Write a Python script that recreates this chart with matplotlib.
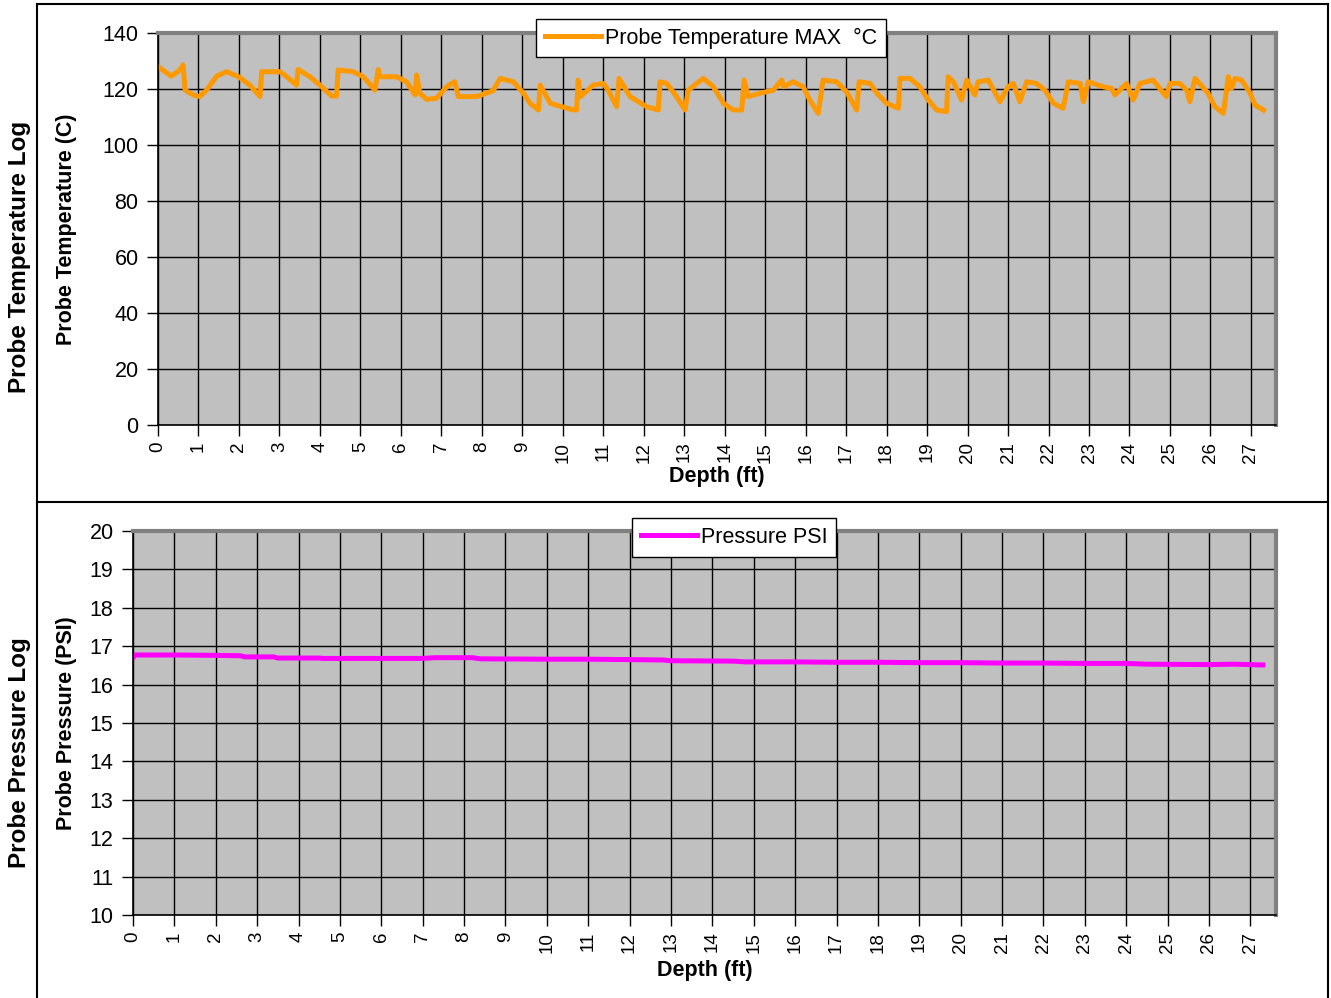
import matplotlib.pyplot as plt
from matplotlib.lines import Line2D

plt.rcParams['font.family'] = ['Liberation Sans', 'DejaVu Sans']

# probe temperature log (depth in ft, temperature in C)
temp_depth = [0.0, 0.33, 0.54, 0.62, 0.67, 0.87, 1.03, 1.20, 1.45, 1.70, 1.99, 2.27, 2.52,
              2.56, 3.01, 3.18, 3.42, 3.46, 3.75, 4.00, 4.29, 4.41, 4.45, 4.82, 5.07, 5.36,
              5.44, 5.48, 5.89, 6.14, 6.35, 6.39, 6.47, 6.64, 6.88, 7.13, 7.33, 7.42, 7.87,
              8.28, 8.45, 8.78, 9.03, 9.19, 9.40, 9.44, 9.69, 10.26, 10.34, 10.38, 10.44,
              10.75, 11.00, 11.12, 11.33, 11.39, 11.66, 12.07, 12.36, 12.40, 12.57, 12.81,
              13.02, 13.10, 13.31, 13.47, 13.72, 13.97, 14.21, 14.42, 14.48, 14.58, 14.87,
              15.20, 15.41, 15.45, 15.69, 15.94, 16.10, 16.31, 16.43, 16.76, 17.01, 17.26,
              17.32, 17.59, 17.76, 18.00, 18.29, 18.33, 18.58, 18.82, 19.03, 19.24, 19.48,
              19.52, 19.65, 19.85, 19.98, 20.18, 20.26, 20.51, 20.80, 21.00, 21.13, 21.29,
              21.46, 21.70, 21.91, 22.12, 22.36, 22.49, 22.78, 22.86, 22.98, 23.35, 23.56,
              23.64, 23.93, 24.09, 24.26, 24.58, 24.91, 25.00, 25.24, 25.41, 25.49, 25.62,
              25.94, 26.11, 26.32, 26.44, 26.52, 26.61, 26.77, 26.98, 27.10, 27.31]
temp_max = [128.0, 124.6, 126.8, 128.6, 119.6, 117.9, 117.3, 119.6, 124.6, 126.2, 124.4, 121.4,
            117.3, 126.2, 126.2, 124.4, 121.4, 127.0, 124.4, 121.4, 117.5, 117.5, 126.8, 126.2,
            124.4, 119.6, 127.0, 124.4, 124.4, 122.6, 117.9, 125.0, 118.5, 116.3, 116.7, 120.8,
            122.6, 117.3, 117.3, 119.4, 123.8, 122.6, 118.5, 114.9, 112.5, 121.4, 114.9, 112.5,
            112.5, 123.2, 117.3, 121.4, 122.0, 119.6, 113.7, 123.8, 117.3, 113.7, 112.5, 122.6,
            122.0, 117.3, 112.5, 119.6, 122.0, 123.8, 120.8, 114.9, 112.5, 112.5, 123.2, 117.3,
            118.5, 119.6, 123.2, 120.8, 122.6, 120.8, 116.1, 111.3, 123.2, 122.6, 119.0, 112.5,
            122.6, 122.0, 118.5, 114.9, 113.1, 123.8, 123.8, 120.8, 116.1, 112.5, 111.9, 124.4,
            122.6, 116.1, 123.2, 117.9, 122.6, 123.2, 115.5, 120.8, 122.0, 115.5, 122.6, 122.0,
            119.6, 114.9, 113.1, 122.6, 122.0, 115.5, 122.6, 120.8, 120.2, 117.9, 122.0, 116.1,
            122.0, 123.2, 117.3, 122.0, 122.0, 119.6, 115.5, 123.8, 118.5, 113.7, 111.3, 124.4,
            120.2, 123.8, 123.2, 118.5, 114.3, 112.5]

# probe pressure log (depth in ft, pressure in PSI)
press_depth = [0.0, 0.05, 1.0, 2.0, 2.6, 2.7, 3.4, 3.5, 4.5, 4.6, 6.0, 7.0, 7.3, 8.2, 8.4,
               10.0, 11.0, 12.0, 12.8, 13.0, 14.5, 14.8, 16.0, 17.0, 18.0, 19.0, 20.0, 21.0,
               22.0, 23.0, 24.0, 24.5, 26.0, 26.6, 27.3]
press_psi = [16.70, 16.77, 16.77, 16.76, 16.75, 16.72, 16.72, 16.69, 16.69, 16.68, 16.68,
             16.68, 16.70, 16.70, 16.67, 16.66, 16.66, 16.65, 16.64, 16.62, 16.61, 16.59,
             16.59, 16.58, 16.58, 16.57, 16.57, 16.56, 16.56, 16.55, 16.55, 16.53, 16.52,
             16.53, 16.51]

depth_ticks = list(range(0, 28))
temp_ticks = [0, 20, 40, 60, 80, 100, 120, 140]
press_ticks = [10, 11, 12, 13, 14, 15, 16, 17, 18, 19, 20]

fig = plt.figure(figsize=(13.31, 9.98), dpi=100)


def style_axes(ax, yticks, label_y):
    ax.set_facecolor('#C0C0C0')
    ax.set_xlim(0, 27.62)
    ax.set_xticks(depth_ticks)
    ax.set_xticklabels([str(d) for d in depth_ticks], rotation=90, fontsize=13.5)
    ax.set_yticks(yticks)
    ax.set_ylim(yticks[0], yticks[-1])
    ax.tick_params(axis='y', labelsize=15.5, length=8, width=1, direction='out', pad=6)
    ax.tick_params(axis='x', length=8, width=1, direction='out', pad=4)
    ax.grid(True, color='black', linewidth=1)
    ax.set_axisbelow(True)
    for side in ['top', 'right']:
        ax.spines[side].set_color('#808080')
        ax.spines[side].set_linewidth(3)
    for side in ['left', 'bottom']:
        ax.spines[side].set_color('black')
        ax.spines[side].set_linewidth(1.2)
    ax.set_xlabel('Depth (ft)', fontsize=15.5, fontweight='bold')
    ax.xaxis.set_label_coords(0.5, label_y)


def add_legend(color, label, center):
    leg = fig.legend(handles=[Line2D([], [], color=color, linewidth=3.6)],
                     labels=[label], loc='center', bbox_to_anchor=center,
                     fontsize=15.5, fancybox=False, framealpha=1, edgecolor='black',
                     handlelength=2.6, borderpad=0.4, handletextpad=0.2,
                     borderaxespad=0)
    leg.get_frame().set_linewidth(1)


# temperature panel
ax1 = fig.add_axes([0.1187, 0.5741, 0.84, 0.3928])
style_axes(ax1, temp_ticks, -0.105)
ax1.plot(temp_depth, temp_max, color='#FF9900', linewidth=3.6, solid_joinstyle='round')
fig.text(0.050, 0.770, 'Probe Temperature (C)', rotation=90, ha='center', va='center',
         fontsize=15.5, fontweight='bold')
fig.text(0.015, 0.743, 'Probe Temperature Log', rotation=90, ha='center', va='center',
         fontsize=17.5, fontweight='bold')
add_legend('#FF9900', 'Probe Temperature MAX  \u00b0C', (0.534, 0.9619))

# pressure panel
ax2 = fig.add_axes([0.0999, 0.0832, 0.8588, 0.3848])
style_axes(ax2, press_ticks, -0.117)
ax2.plot(press_depth, press_psi, color='#FF00FF', linewidth=3.6, solid_joinstyle='round')
fig.text(0.050, 0.275, 'Probe Pressure (PSI)', rotation=90, ha='center', va='center',
         fontsize=15.5, fontweight='bold')
fig.text(0.015, 0.246, 'Probe Pressure Log', rotation=90, ha='center', va='center',
         fontsize=17.5, fontweight='bold')
add_legend('#FF00FF', 'Pressure PSI', (0.5515, 0.4615))

# outer frame around the two logs
frame_kw = dict(color='black', linewidth=1.5, transform=fig.transFigure)
fig.add_artist(Line2D([0.0278, 0.0278], [0.0, 0.996], **frame_kw))
fig.add_artist(Line2D([0.0278, 0.9977], [0.996, 0.996], **frame_kw))
fig.add_artist(Line2D([0.9977, 0.9977], [0.0, 0.996], **frame_kw))
fig.add_artist(Line2D([0.0278, 0.9977], [0.497, 0.497], **frame_kw))

fig.savefig('out.png', dpi=100)
